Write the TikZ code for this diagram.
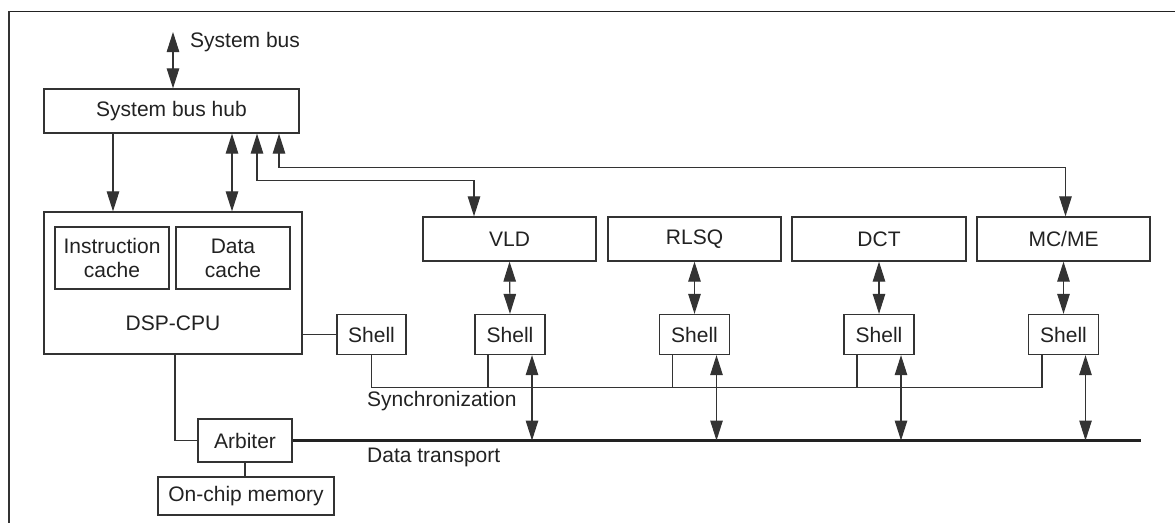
\documentclass[tikz,border=0pt]{standalone}
\usepackage{fontspec}
\setmainfont{Liberation Sans}
\usetikzlibrary{arrows.meta}
\definecolor{ink}{HTML}{222222}
\definecolor{ln}{HTML}{333333}
\begin{document}
\begin{tikzpicture}[x=1pt,y=-1pt,
  every node/.style={font=\fontsize{21}{24}\selectfont, text=ink, inner sep=0pt},
  box/.style={draw=ln, line width=1.3pt, fill=white, align=center},
  shellbox/.style={box, minimum width=70, minimum height=40},
  unit/.style={box, minimum width=173, minimum height=44},
  conn/.style={draw=ln, line width=1.1pt},
  arr/.style={conn, -{Triangle[length=20pt,width=12.5pt]}},
  dbl/.style={conn, {Triangle[length=20pt,width=12.5pt]}-{Triangle[length=20pt,width=12.5pt]}},
  bus/.style={draw=ink, line width=3.2pt}]
\useasboundingbox (0,0) rectangle (1175,523);
% frame
\draw[ink, line width=1.6pt] (8,11.5) -- (1175,11.5);
\draw[color=ln, line width=2pt] (8.5,11) -- (8.5,523);

% nodes
\node[box, minimum width=255, minimum height=44] (hub) at (171.5,111) {System bus hub};
\node[box, minimum width=258, minimum height=142] (cpu) at (173,283) {};
\node[box, minimum width=114, minimum height=62] (icache) at (112,258) {Instruction\\cache};
\node[box, minimum width=114, minimum height=62] (dcache) at (233,258) {Data\\cache};
\node (cpulab) at (173,323) {DSP-CPU};
\node[shellbox, minimum width=69] (cpush) at (371.5,334.5) {Shell};

\node[unit] (vld) at (509.5,239) {VLD};
\node[unit] (rlsq) at (694.5,239) {RLSQ};
\node[unit, minimum width=174] (dct) at (879,239) {DCT};
\node[unit] (mc) at (1063.5,239) {MC/ME};

\node[shellbox] (vldsh) at (510,334.5) {Shell};
\node[shellbox] (rlsqsh) at (694.5,334.5) {Shell};
\node[shellbox] (dctsh) at (879,334.5) {Shell};
\node[shellbox] (mcsh) at (1063.5,334.5) {Shell};

\node[box, minimum width=94, minimum height=43] (arb) at (245,440.5) {Arbiter};
\node[box, minimum width=176, minimum height=38] (mem) at (246,496) {On-chip memory};

\node[anchor=west] (sblab) at (190,42) {System bus};
\node[anchor=west] (synclab) at (367,401) {Synchronization};
\node[anchor=west] (dtlab) at (367,457) {Data transport};

\coordinate (sbus) at (173,32);
\coordinate (busend) at (1141,440.5);

% system bus
\draw[dbl] (sbus) -- (sbus |- hub.north);
% hub to cpu
\path ([xshift=-58.5]hub.south) coordinate (h1)
      ([xshift=60.5]hub.south) coordinate (h2)
      ([xshift=85.5]hub.south) coordinate (h3)
      ([xshift=107.5]hub.south) coordinate (h4);
\draw[arr] (h1) -- (h1 |- cpu.north);
\draw[dbl] (h2) -- (h2 |- cpu.north);
\path ([xshift=-35.5]vld.north) coordinate (v3);
\draw[dbl] (h3) -- ++(0,47) -| (v3);
\draw[dbl] (h4) -- ++(0,34) -| ([xshift=2]mc.north);

% units to shells
\foreach \u/\s in {vld/vldsh, rlsq/rlsqsh, dct/dctsh, mc/mcsh}{
  \draw[dbl] (\u.south) -- (\s.north);
}
% cpu to its shell
\draw[conn] (cpush.west) -- (cpush.west -| cpu.east);

% synchronization
\path ([xshift=-21.5]mcsh.south) ++(0,32) coordinate (s4);
\draw[conn] (cpush.south) |- (s4) -- ([xshift=-21.5]mcsh.south);
\foreach \s in {vldsh, rlsqsh, dctsh}{
  \draw[conn] ([xshift=-22]\s.south) -- ++(0,32);
}

% data transport
\draw[bus] (arb.east) -- (busend);
\foreach \s in {vldsh, rlsqsh, dctsh, mcsh}{
  \path ([xshift=22]\s.south) coordinate (d);
  \draw[dbl] (d) -- (d |- busend);
}
\draw[conn] ([xshift=2]cpu.south) |- (arb.west);
\draw[conn] (arb.south) -- (arb.south |- mem.north);
\end{tikzpicture}
\end{document}
